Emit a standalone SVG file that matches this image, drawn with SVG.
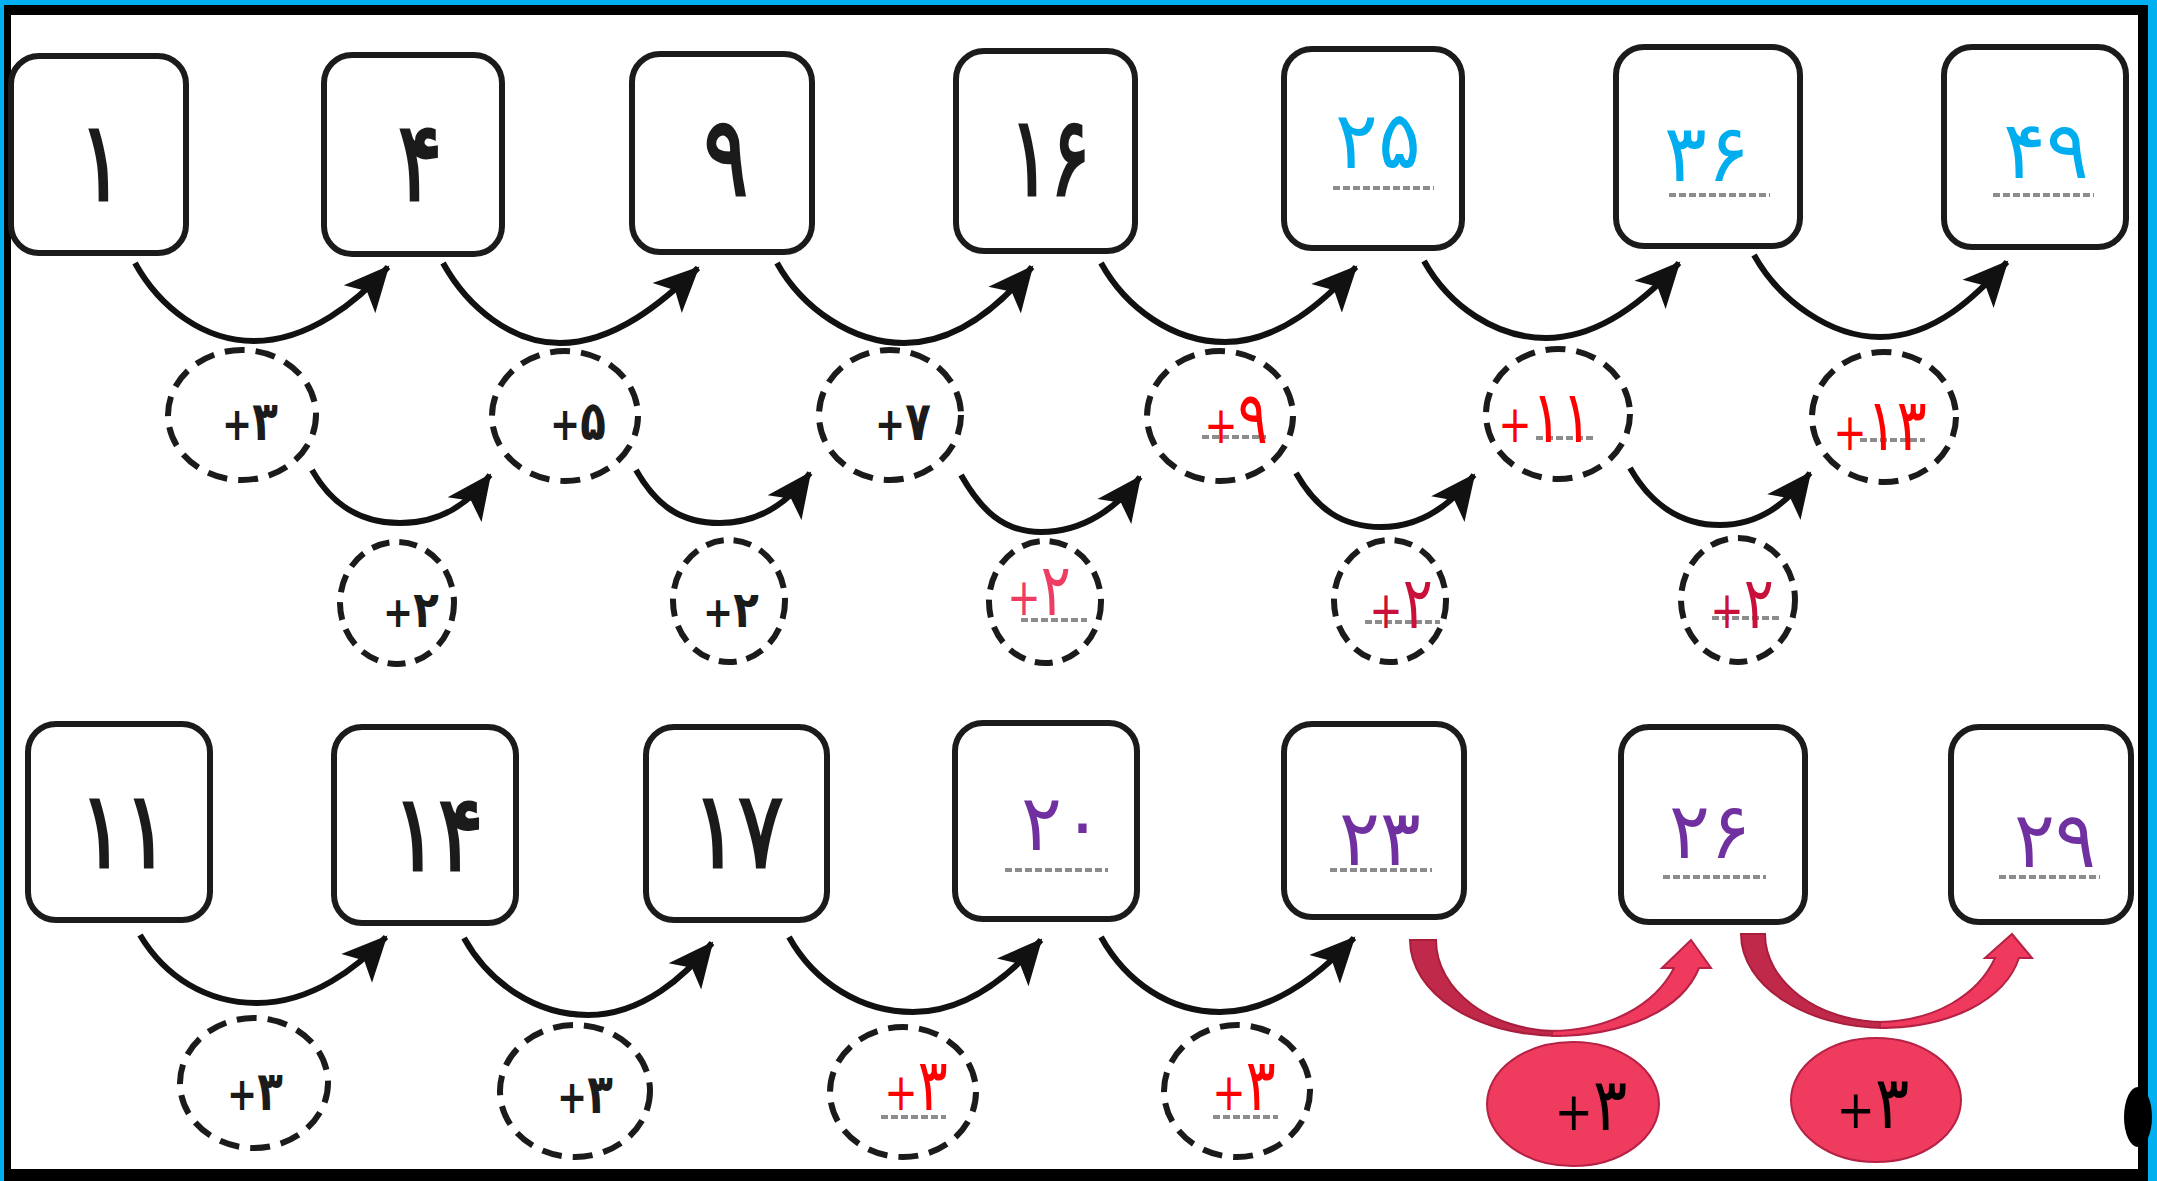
<svg xmlns="http://www.w3.org/2000/svg" width="2157" height="1181" viewBox="0 0 2157 1181">
<style>
.box{fill:#fff;stroke:#1b1b1b;stroke-width:6}
.dc{fill:none;stroke:#1b1b1b;stroke-width:6;stroke-dasharray:20 11}
.dg{fill:none;stroke:#1b1b1b;stroke-width:6;stroke-dasharray:18 10}
.arc{fill:none;stroke:#111;stroke-width:6;marker-end:url(#ah)}
.ul{stroke:#8c8c8c;stroke-width:4;stroke-dasharray:7 3}
text{font-family:"DejaVu Sans",sans-serif;text-anchor:middle}
.num{font-size:92px;fill:#1b1b1b;stroke:#1b1b1b;stroke-width:2.5}
.blue{font-size:74px;fill:#00AEEF}
.pur{font-size:74px;fill:#7030A0}
.sm{font-size:42px;font-weight:bold;fill:#1b1b1b}
.red{font-size:56px;fill:#FF0000}
.pink{font-size:56px;fill:#EE3D63}
.crim{font-size:56px;fill:#C8103A}
.big{font-size:64px;fill:#000}
.pl{font-size:40px}
.pls{font-size:36px}
.rdk{fill:#C0294A;stroke:#A81E3C;stroke-width:2}
.rlt{fill:#EF3A5E;stroke:#B52245;stroke-width:2}
</style>
<defs>
<marker id="ah" markerUnits="userSpaceOnUse" viewBox="0 0 46 44" markerWidth="46" markerHeight="44" refX="43" refY="22" orient="auto">
<path d="M0,1 L45,22 L0,43 L11,22 Z" fill="#111"/>
</marker>
</defs>
<rect width="2157" height="1181" fill="#00B0F0"/>
<rect x="4" y="5" width="2144" height="1176" fill="#000"/>
<rect x="11" y="15" width="2127" height="1154" fill="#fff"/>
<ellipse cx="2138" cy="1117" rx="14" ry="30" fill="#000"/>

<g id="connectors">
<path class="arc" d="M135,263 c25,45 69,78 119,78 c55,0 104,-40 134,-74"/>
<path class="arc" d="M443,263 c25,45 69,80 117,80 c55,0 104,-42 138,-75"/>
<path class="arc" d="M777,263 c25,45 75,80 127,80 c55,0 100,-42 128,-76"/>
<path class="arc" d="M1101,263 c25,45 72,79 124,79 c55,0 100,-42 131,-75"/>
<path class="arc" d="M1424,261 c25,45 72,77 122,77 c55,0 103,-42 133,-75"/>
<path class="arc" d="M1754,255 c25,45 76,82 126,82 c55,0 97,-42 127,-75"/>

<path class="arc" d="M312,470 c20,35 48,53 88,53 c40,0 68,-18 90,-48"/>
<path class="arc" d="M636,470 c20,35 44,53 84,53 c40,0 68,-20 90,-50"/>
<path class="arc" d="M961,475 c20,35 42,57 80,57 c42,0 76,-24 99,-55"/>
<path class="arc" d="M1296,473 c20,35 45,54 85,54 c40,0 70,-22 93,-52"/>
<path class="arc" d="M1630,468 c20,35 50,57 90,57 c40,0 67,-22 90,-52"/>

<path class="arc" d="M140,935 c25,42 67,68 117,68 c55,0 101,-36 129,-66"/>
<path class="arc" d="M464,938 c25,45 72,77 124,77 c55,0 98,-40 124,-72"/>
<path class="arc" d="M789,937 c25,45 72,75 124,75 c55,0 100,-40 128,-72"/>
<path class="arc" d="M1101,937 c25,45 69,75 119,75 c55,0 104,-42 134,-74"/>

<path class="rdk" d="M1410,940 L1436,940 C1436,990 1490,1031 1558,1031 L1560,1036 C1475,1036 1410,993 1410,940 Z"/>
<path class="rlt" d="M1552,1036 C1625,1036 1682,1010 1699,968 L1711,968 L1691,940 L1662,968 L1674,968 C1655,1005 1610,1030 1552,1031 Z"/>
<path class="rdk" d="M1741,934 L1765,934 C1765,982 1818,1022 1884,1022 L1886,1028 C1806,1028 1741,986 1741,934 Z"/>
<path class="rlt" d="M1880,1028 C1950,1028 2005,1000 2019,958 L2032,958 L2012,934 L1985,958 L1995,958 C1978,995 1935,1021 1880,1022 Z"/>
</g>

<g id="n1"><rect class="box" x="11" y="56" width="175" height="197" rx="28"/><text class="num" transform="translate(101,200) scale(0.9,1.2)">۱</text></g>
<g id="n4"><rect class="box" x="324" y="55" width="178" height="199" rx="28"/><text class="num" transform="translate(420,200) scale(0.9,1.2)">۴</text></g>
<g id="n9"><rect class="box" x="632" y="54" width="180" height="198" rx="28"/><text class="num" transform="translate(726,195) scale(0.9,1.2)">۹</text></g>
<g id="n16"><rect class="box" x="956" y="51" width="179" height="200" rx="28"/><text class="num" transform="translate(1050,195) scale(0.82,1.2)">۱۶</text></g>
<g id="n25"><rect class="box" x="1284" y="49" width="178" height="199" rx="28"/><line class="ul" x1="1333" y1="188" x2="1434" y2="188"/><text class="blue" transform="translate(1378,168) scale(1.08,1.08)">۲۵</text></g>
<g id="n36"><rect class="box" x="1616" y="47" width="184" height="199" rx="28"/><line class="ul" x1="1669" y1="195" x2="1770" y2="195"/><text class="blue" transform="translate(1707,181) scale(1.08,1.08)">۳۶</text></g>
<g id="n49"><rect class="box" x="1944" y="47" width="182" height="200" rx="28"/><line class="ul" x1="1993" y1="195" x2="2094" y2="195"/><text class="blue" transform="translate(2046,178) scale(1.08,1.08)">۴۹</text></g>

<g id="c1"><ellipse class="dc" cx="242" cy="415" rx="74" ry="65"/><text class="sm" transform="translate(250,440) scale(1,1.3)"><tspan class="pls">+</tspan>۳</text></g>
<g id="c2"><ellipse class="dc" cx="565" cy="416" rx="73" ry="65"/><text class="sm" transform="translate(578,440) scale(1,1.3)"><tspan class="pls">+</tspan>۵</text></g>
<g id="c3"><ellipse class="dc" cx="890" cy="415" rx="71" ry="65"/><text class="sm" transform="translate(903,440) scale(1,1.3)"><tspan class="pls">+</tspan>۷</text></g>
<g id="c4"><ellipse class="dc" cx="1220" cy="416" rx="73" ry="65"/><line class="ul" x1="1202" y1="437" x2="1266" y2="437"/><text class="red" transform="translate(1236,443) scale(1,1.3)"><tspan class="pl">+</tspan>۹</text></g>
<g id="c5"><ellipse class="dc" cx="1558" cy="414" rx="72" ry="65"/><line class="ul" x1="1536" y1="438" x2="1596" y2="438"/><text class="red" transform="translate(1545,442) scale(1,1.3)"><tspan class="pl">+</tspan>۱۱</text></g>
<g id="c6"><ellipse class="dc" cx="1884" cy="417" rx="72" ry="65"/><line class="ul" x1="1860" y1="440" x2="1925" y2="440"/><text class="red" transform="translate(1880,450) scale(1,1.3)"><tspan class="pl">+</tspan>۱۳</text></g>

<g id="g1"><ellipse class="dg" cx="397" cy="603" rx="57" ry="61"/><text class="sm" transform="translate(411,627) scale(1,1.2)"><tspan class="pls">+</tspan>۲</text></g>
<g id="g2"><ellipse class="dg" cx="729" cy="601" rx="56" ry="61"/><text class="sm" transform="translate(731,627) scale(1,1.2)"><tspan class="pls">+</tspan>۲</text></g>
<g id="g3"><ellipse class="dg" cx="1045" cy="602" rx="56" ry="61"/><line class="ul" x1="1021" y1="620" x2="1087" y2="620"/><text class="pink" transform="translate(1039,615) scale(1,1.3)"><tspan class="pl">+</tspan>۲</text></g>
<g id="g4"><ellipse class="dg" cx="1390" cy="601" rx="56" ry="61"/><line class="ul" x1="1365" y1="622" x2="1440" y2="622"/><text class="crim" transform="translate(1401,628) scale(1,1.3)"><tspan class="pl">+</tspan>۲</text></g>
<g id="g5"><ellipse class="dg" cx="1738" cy="600" rx="57" ry="62"/><line class="ul" x1="1712" y1="618" x2="1781" y2="618"/><text class="crim" transform="translate(1742,628) scale(1,1.3)"><tspan class="pl">+</tspan>۲</text></g>

<g id="n11"><rect class="box" x="28" y="724" width="182" height="196" rx="28"/><text class="num" letter-spacing="-12" transform="translate(124,867) scale(0.9,1.15)">۱۱</text></g>
<g id="n14"><rect class="box" x="334" y="727" width="182" height="196" rx="28"/><text class="num" transform="translate(438,870) scale(0.92,1.15)">۱۴</text></g>
<g id="n17"><rect class="box" x="646" y="727" width="181" height="193" rx="28"/><text class="num" transform="translate(738,867) scale(0.92,1.15)">۱۷</text></g>
<g id="n20"><rect class="box" x="955" y="723" width="182" height="196" rx="28"/><line class="ul" x1="1005" y1="870" x2="1108" y2="870"/><text class="pur" transform="translate(1062,850) scale(1.03,1.05)">۲۰</text></g>
<g id="n23"><rect class="box" x="1284" y="724" width="180" height="193" rx="28"/><line class="ul" x1="1330" y1="870" x2="1432" y2="870"/><text class="pur" transform="translate(1380,865) scale(1.03,1.05)">۲۳</text></g>
<g id="n26"><rect class="box" x="1621" y="727" width="184" height="195" rx="28"/><line class="ul" x1="1663" y1="877" x2="1766" y2="877"/><text class="pur" transform="translate(1710,858) scale(1.03,1.05)">۲۶</text></g>
<g id="n29"><rect class="box" x="1951" y="727" width="180" height="195" rx="28"/><line class="ul" x1="1999" y1="877" x2="2100" y2="877"/><text class="pur" transform="translate(2055,867) scale(1.03,1.05)">۲۹</text></g>

<g id="e1"><ellipse class="dc" cx="254" cy="1083" rx="74" ry="65"/><text class="sm" transform="translate(255,1110) scale(1,1.3)"><tspan class="pls">+</tspan>۳</text></g>
<g id="e2"><ellipse class="dc" cx="575" cy="1091" rx="75" ry="66"/><text class="sm" transform="translate(585,1113) scale(1,1.3)"><tspan class="pls">+</tspan>۳</text></g>
<g id="e3"><ellipse class="dc" cx="903" cy="1092" rx="73" ry="65"/><line class="ul" x1="881" y1="1117" x2="946" y2="1117"/><text class="red" transform="translate(916,1110) scale(1,1.3)"><tspan class="pl">+</tspan>۳</text></g>
<g id="e4"><ellipse class="dc" cx="1237" cy="1091" rx="73" ry="66"/><line class="ul" x1="1213" y1="1117" x2="1278" y2="1117"/><text class="red" transform="translate(1244,1110) scale(1,1.3)"><tspan class="pl">+</tspan>۳</text></g>

<g id="f1"><ellipse cx="1573" cy="1104" rx="86" ry="62" fill="#EF3B5E" stroke="#B52245" stroke-width="2"/><text class="big" transform="translate(1591,1130) scale(1,1.15)"><tspan font-size="46px">+</tspan>۳</text></g>
<g id="f2"><ellipse cx="1876" cy="1100" rx="85" ry="62" fill="#EF3B5E" stroke="#B52245" stroke-width="2"/><text class="big" transform="translate(1873,1128) scale(1,1.15)"><tspan font-size="46px">+</tspan>۳</text></g>
</svg>
